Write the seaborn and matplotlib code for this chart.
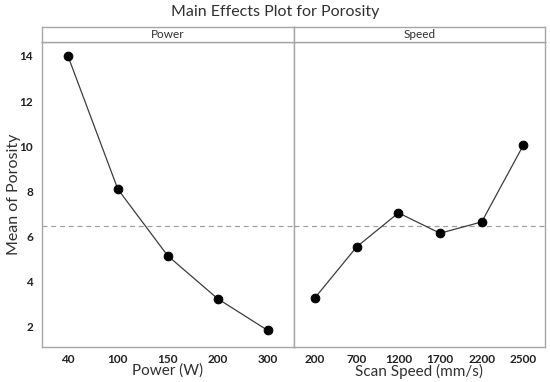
import pandas as pd
import matplotlib
matplotlib.use('Agg')
import matplotlib.pyplot as plt
import seaborn as sns

# data
power_levels = ['40', '100', '150', '200', '300']
power_means = [14.0, 8.1, 5.15, 3.25, 1.85]
speed_levels = ['200', '700', '1200', '1700', '2200', '2500']
speed_means = [3.3, 5.55, 7.05, 6.15, 6.65, 10.05]
overall_mean = 6.47

sns.set_style('white')
plt.rcParams['font.family'] = ['Lato', 'DejaVu Sans']

fig = plt.figure(figsize=(5.5, 3.82), dpi=100)
L, R = 42 / 550, 545 / 550
B, T = 1 - 347 / 382, 1 - 42 / 382
W = (R - L) / 2
ax1 = fig.add_axes([L, B, W, T - B])
ax2 = fig.add_axes([L + W, B, W, T - B], sharey=ax1)

frame = '#a6a6a6'
panels = [
    (ax1, power_levels, power_means, 'Power', 'Power (W)'),
    (ax2, speed_levels, speed_means, 'Speed', 'Scan Speed (mm/s)'),
]
for ax, lv, vals, strip, xlab in panels:
    df = pd.DataFrame({'level': lv, 'mean': vals})
    sns.pointplot(data=df, x='level', y='mean', ax=ax, color='black',
                  markersize=6.3, linewidth=0.9)
    for ln in ax.lines:
        ln.set_color('#3c3c3c')
        ln.set_markerfacecolor('black')
        ln.set_markeredgecolor('black')
    ax.axhline(overall_mean, color='#a0a0a0', ls=(0, (4, 3)), lw=0.9, zorder=0)
    ax.set_xlim(-0.52, len(lv) - 0.48)
    ax.set_xlabel(xlab, fontsize=11, color='#303030', labelpad=-1)
    ax.set_ylabel('')
    for s in ax.spines.values():
        s.set_visible(True)
        s.set_color(frame)
        s.set_linewidth(1)
    ax.tick_params(axis='both', labelsize=8.5, colors='#202020', length=3,
                   width=0.8, color=frame, direction='out')
    ax.tick_params(axis='x', length=0, pad=5)
    for t in ax.get_xticklabels() + ax.get_yticklabels():
        t.set_fontweight('bold')
    pos = ax.get_position()
    sax = fig.add_axes([pos.x0, 1 - 42 / 382, pos.width, 15 / 382])
    sax.set_xticks([])
    sax.set_yticks([])
    for s in sax.spines.values():
        s.set_color(frame)
        s.set_linewidth(1)
    sax.text(0.5, 0.5, strip, ha='center', va='center', fontsize=8.5,
             color='#303030', transform=sax.transAxes)

ax1.set_ylim(1.11, 14.62)
ax1.set_yticks([2, 4, 6, 8, 10, 12, 14])
ax1.set_ylabel('Mean of Porosity', fontsize=11.5, color='#303030')
ax1.yaxis.set_label_coords(-0.085, 0.5)
ax2.tick_params(axis='y', left=False, labelleft=False)

fig.text(0.5, 1 - 12 / 382, 'Main Effects Plot for Porosity', ha='center',
         va='center', fontsize=11.5, color='#303030')

fig.savefig('out.png', dpi=100)
